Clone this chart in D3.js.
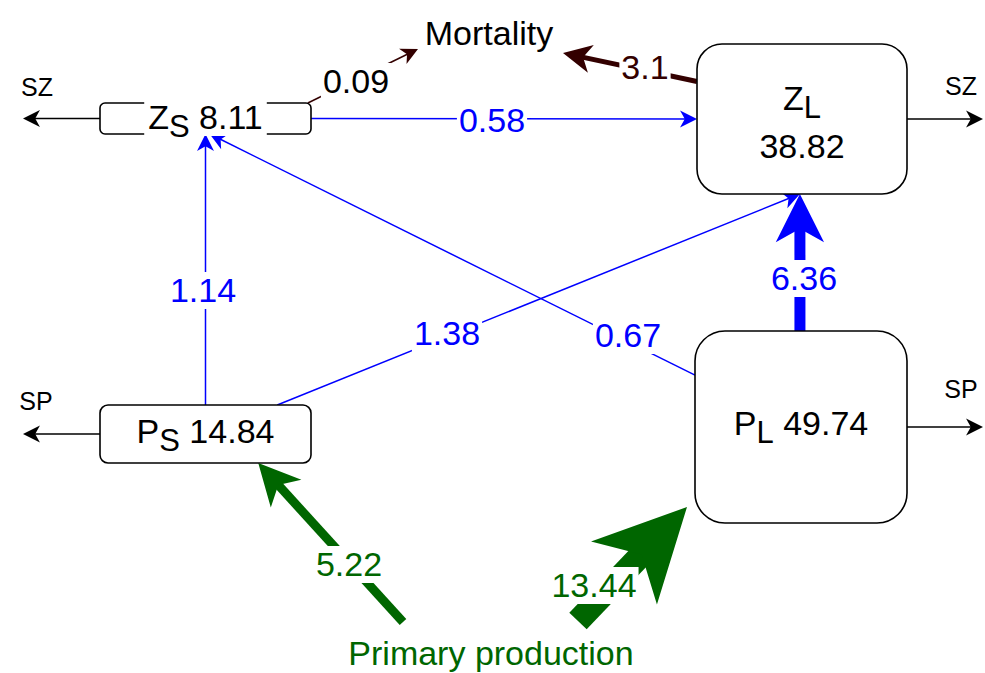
<!DOCTYPE html>
<html>
<head>
<meta charset="utf-8">
<script src="https://cdn.jsdelivr.net/npm/d3@7"></script>
<style>
  body { margin: 0; background: #fff; }
  svg { display: block; font-family: "Liberation Sans", Arial, Helvetica, sans-serif; }
  text { white-space: pre; }
</style>
</head>
<body>
<div id="chart"></div>
<script>
// compartments: letter, subscript and standing stock
const nodeIds = ["ZS", "ZL", "PS", "PL"];
const nodeLetters = ["Z", "Z", "P", "P"];
const nodeSubs = ["S", "L", "S", "L"];
const nodeStocks = [8.11, 38.82, 14.84, 49.74];

// flows between compartments (PP = primary production, MO = mortality)
const flowFrom = ["PS", "PS", "PL", "PL", "ZS", "ZS", "ZL", "PP", "PP"];
const flowTo = ["ZS", "ZL", "ZS", "ZL", "ZL", "MO", "MO", "PS", "PL"];
const flowValues = [1.14, 1.38, 0.67, 6.36, 0.58, 0.09, 3.1, 5.22, 13.44];
const flowKinds = ["grazing", "grazing", "grazing", "grazing", "grazing",
  "mortality", "mortality", "production", "production"];

// sinking losses
const sinkFrom = ["ZS", "ZL", "PS", "PL"];
const sinkLabels = ["SZ", "SZ", "SP", "SP"];

const sourceNames = { PP: "Primary production", MO: "Mortality" };

// ---- layout (positions and styles) ----
const width = 985, height = 673;
const fontSize = 34;
const subSize = 31;

const boxes = {
  ZS: { x: 100, y: 103, w: 211, h: 31, r: 5, lines: [{ dy: 10 }] },
  ZL: { x: 697, y: 44, w: 210, h: 150, r: 25, lines: [{ dy: -9 }, { dy: 39 }] },
  PS: { x: 100, y: 405, w: 211, h: 58, r: 8, lines: [{ dy: 9 }] },
  PL: { x: 695, y: 331, w: 212, h: 192, r: 30, lines: [{ dy: 8 }] }
};

const sourcePos = { MO: [489, 45], PP: [491, 665] };

const flowLayout = [
  { from: ["PS", 0.5, 0], to: ["ZS", 0.5, 1], label: [203, 302] },
  { from: ["PS", 0.84, 0], to: ["ZL", 0.49, 1], label: [447, 345] },
  { from: ["PL", 0, 0.23], to: ["ZS", 0.52, 1], label: [628, 347] },
  { from: ["PL", 0.495, 0], to: ["ZL", 0.49, 1], label: [804, 290] },
  { from: ["ZS", 1, 0.5], to: ["ZL", 0, 0.5], label: [492, 132] },
  { from: ["ZS", 0.985, 0], to: [418, 49], label: [356, 93], labelColor: "#000" },
  { from: ["ZL", 0, 0.25], to: [563, 53], label: [645, 79] },
  { from: [403, 622], to: ["PS", 0.75, 1], label: [349, 576] },
  { from: [578, 621], to: [687, 507], label: [594, 597] }
];

const sinkLayout = [
  { side: "left", end: 23, label: [37, 96] },
  { side: "right", end: 983, label: [961, 95] },
  { side: "left", end: 23, label: [36, 410] },
  { side: "right", end: 983, label: [961, 398] }
];

const kindColor = { grazing: "#0000ff", mortality: "#330000", production: "#006600" };

// stroke width follows the flow size
const strokeWidth = d3.scaleLinear()
  .domain([0, 1.4, 3.1, 13.44])
  .range([1.5, 1.5, 5, 24]);

function anchor(spec) {
  if (typeof spec[0] === "number") return spec;
  const b = boxes[spec[0]];
  return [b.x + spec[1] * b.w, b.y + spec[2] * b.h];
}

const svg = d3.select("#chart")
  .append("svg")
  .attr("width", width)
  .attr("height", height)
  .attr("viewBox", [0, 0, width, height]);

const gEdges = svg.append("g");
const gNodes = svg.append("g");
const gLabels = svg.append("g");

// a line that ends in a notched ("classic") arrow head
function arrow(g, p0, p1, w, color) {
  const dx = p1[0] - p0[0], dy = p1[1] - p0[1];
  const len = Math.hypot(dx, dy), ux = dx / len, uy = dy / len;
  const L = 12 + 3.3 * w, W = L / 2;
  const back = [p1[0] - ux * L, p1[1] - uy * L];
  const notch = [p1[0] - ux * L * 0.72, p1[1] - uy * L * 0.72];
  const stop = [p1[0] - ux * (L * 0.72 - 2), p1[1] - uy * (L * 0.72 - 2)];
  g.append("line")
    .attr("x1", p0[0]).attr("y1", p0[1])
    .attr("x2", stop[0]).attr("y2", stop[1])
    .attr("stroke", color)
    .attr("stroke-width", w);
  g.append("path")
    .attr("d", d3.line()([
      p1,
      [back[0] - uy * W, back[1] + ux * W],
      notch,
      [back[0] + uy * W, back[1] - ux * W]
    ]) + "Z")
    .attr("fill", color);
}

// text with a white box behind it, so it cuts the line under it
function boxedText(g, x, y, str, color, size) {
  const t = g.append("text")
    .attr("x", x).attr("y", y)
    .attr("text-anchor", "middle")
    .attr("font-size", size)
    .attr("fill", color)
    .text(str);
  const bb = t.node().getBBox();
  g.insert("rect", () => t.node())
    .attr("x", bb.x - 2).attr("y", bb.y + 1)
    .attr("width", bb.width + 4).attr("height", bb.height - 1)
    .attr("fill", "#fff");
  return t;
}

// flows
flowValues.forEach((v, i) => {
  const lay = flowLayout[i];
  const color = kindColor[flowKinds[i]];
  arrow(gEdges, anchor(lay.from), anchor(lay.to), strokeWidth(v), color);
  boxedText(gLabels, lay.label[0], lay.label[1], String(v), lay.labelColor || color, fontSize);
});

// sinking losses
sinkFrom.forEach((id, i) => {
  const b = boxes[id], lay = sinkLayout[i];
  const y = b.y + b.h / 2;
  const x0 = lay.side === "left" ? b.x : b.x + b.w;
  arrow(gEdges, [x0, y], [lay.end, y], 1.5, "#000");
  gLabels.append("text")
    .attr("x", lay.label[0]).attr("y", lay.label[1])
    .attr("text-anchor", "middle")
    .attr("font-size", 25)
    .text(sinkLabels[i]);
});

// compartments
nodeIds.forEach((id, i) => {
  const b = boxes[id];
  const g = gNodes.append("g");
  g.append("rect")
    .attr("x", b.x).attr("y", b.y)
    .attr("width", b.w).attr("height", b.h)
    .attr("rx", b.r).attr("ry", b.r)
    .attr("fill", "#fff")
    .attr("stroke", "#000")
    .attr("stroke-width", 1.6);

  const cx = b.x + b.w / 2, cy = b.y + b.h / 2;
  const twoLines = b.lines.length > 1;
  const t = g.append("text")
    .attr("x", cx).attr("y", cy + b.lines[0].dy)
    .attr("text-anchor", "middle")
    .attr("font-size", fontSize);
  t.append("tspan").text(nodeLetters[i]);
  t.append("tspan").attr("dy", 8).attr("font-size", subSize).text(nodeSubs[i]);
  if (!twoLines) {
    t.append("tspan").attr("dy", -8).text(" " + nodeStocks[i]);
  } else {
    g.append("text")
      .attr("x", cx).attr("y", cy + b.lines[1].dy)
      .attr("text-anchor", "middle")
      .attr("font-size", fontSize)
      .text(nodeStocks[i]);
  }
  // the small Z_S box: label background cuts its border
  if (id === "ZS") {
    const bb = t.node().getBBox();
    g.insert("rect", () => t.node())
      .attr("x", bb.x - 4).attr("y", b.y - 2)
      .attr("width", bb.width + 8).attr("height", b.h + 4)
      .attr("fill", "#fff");
  }
});

// source / sink text nodes
gLabels.append("text")
  .attr("x", sourcePos.MO[0]).attr("y", sourcePos.MO[1])
  .attr("text-anchor", "middle")
  .attr("font-size", fontSize)
  .text(sourceNames.MO);

gLabels.append("text")
  .attr("x", sourcePos.PP[0]).attr("y", sourcePos.PP[1])
  .attr("text-anchor", "middle")
  .attr("font-size", fontSize)
  .attr("fill", kindColor.production)
  .text(sourceNames.PP);
</script>
</body>
</html>
